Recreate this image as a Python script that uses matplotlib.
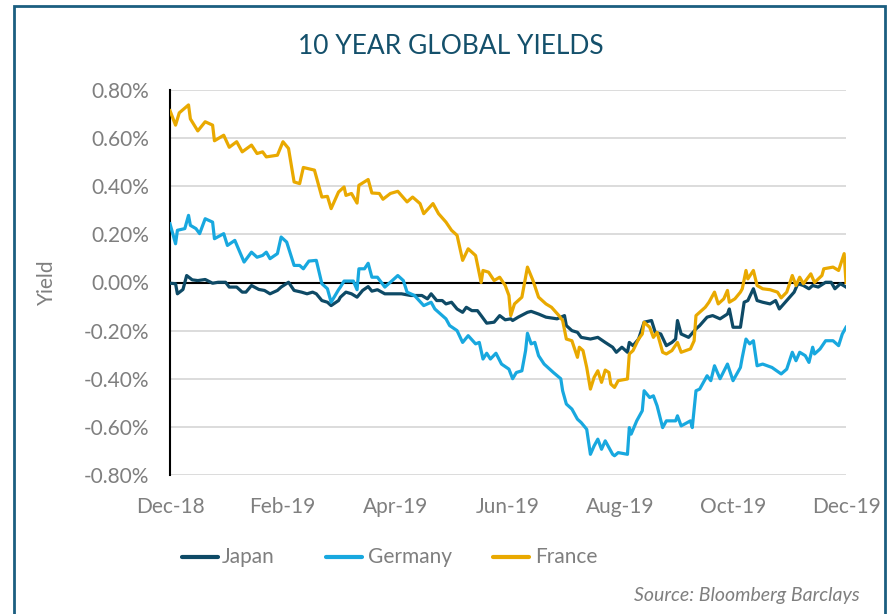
import matplotlib
matplotlib.use("Agg")
import matplotlib.pyplot as plt
from matplotlib.patches import Rectangle
from matplotlib.lines import Line2D
import numpy as np

# ---- data (days since 31-Dec-2018, yield in %) ----
japan_days = [0, 3, 4, 7, 9, 12, 15, 19, 23, 26, 30, 32, 36, 39, 41, 44, 48, 51, 54, 58,
              60, 64, 67, 71, 74, 77, 79, 82, 85, 87, 91, 92, 95, 98, 101, 104, 107, 109, 112, 116,
              125, 130, 136, 139, 141, 144, 147, 149, 152, 155, 158, 160, 163, 166, 168, 171, 175, 178, 181, 184,
              185, 188, 193, 195, 199, 203, 209, 213, 214, 217, 220, 222, 227, 231, 235, 239, 241, 244, 247, 248,
              250, 253, 256, 260, 262, 265, 268, 271, 273, 274, 276, 280, 284, 286, 290, 293, 297, 301, 302, 304,
              308, 310, 312, 315, 317, 320, 324, 327, 329, 333, 337, 339, 342, 345, 347, 350, 354, 357, 359, 362, 365]
japan_vals = [-0.003, -0.005, -0.047, -0.029, 0.029, 0.011, 0.008, 0.0125, -0.003, 0.001, 0.001, -0.019, -0.019, -0.04, -0.04, -0.0125, -0.029, -0.033, -0.047, -0.033,
              -0.019, 0.001, -0.033, -0.04, -0.047, -0.04, -0.047, -0.075, -0.082, -0.096, -0.075, -0.061, -0.04, -0.047, -0.061, -0.033, -0.017, -0.036, -0.03, -0.047,
              -0.047, -0.054, -0.054, -0.068, -0.047, -0.075, -0.075, -0.089, -0.082, -0.11, -0.124, -0.103, -0.117, -0.117, -0.1375, -0.169, -0.165, -0.1375, -0.155, -0.151,
              -0.158, -0.144, -0.124, -0.12, -0.131, -0.144, -0.151, -0.1375, -0.179, -0.2, -0.207, -0.228, -0.235, -0.228, -0.249, -0.269, -0.29, -0.269, -0.29, -0.249,
              -0.2625, -0.235, -0.165, -0.158, -0.207, -0.214, -0.2625, -0.249, -0.235, -0.158, -0.214, -0.228, -0.193, -0.179, -0.144, -0.1375, -0.151, -0.131, -0.11, -0.186,
              -0.186, -0.082, -0.075, -0.026, -0.075, -0.082, -0.089, -0.075, -0.11, -0.075, -0.04, -0.005, -0.0125, -0.026, -0.0125, -0.019, 0.001, 0.001, -0.026, -0.005, -0.019]

germany_days = [0, 3, 4, 8, 10, 11, 14, 16, 19, 23, 24, 29, 31, 35, 40, 44, 47, 50, 52, 54,
                58, 60, 63, 67, 70, 72, 75, 79, 82, 85, 87, 91, 92, 94, 99, 101, 102, 105, 107, 109,
                112, 116, 120, 123, 126, 128, 132, 137, 141, 143, 149, 151, 155, 158, 161, 165, 167, 169, 171, 173,
                176, 179, 183, 185, 187, 190, 192, 193, 195, 197, 199, 202, 207, 211, 212, 214, 217, 220, 222, 225,
                227, 229, 231, 233, 235, 237, 239, 240, 242, 247, 248, 249, 252, 255, 256, 259, 261, 263, 266, 268,
                273, 274, 276, 281, 282, 284, 286, 288, 290, 292, 294, 297, 301, 304, 308, 309, 311, 313, 315, 317,
                320, 325, 330, 333, 336, 338, 340, 343, 345, 347, 348, 351, 354, 358, 361, 363, 365]
germany_vals = [0.244, 0.161, 0.217, 0.224, 0.279, 0.2375, 0.224, 0.203, 0.265, 0.251, 0.182, 0.203, 0.154, 0.175, 0.085, 0.126, 0.105, 0.1125, 0.126, 0.099,
                0.12, 0.189, 0.168, 0.071, 0.071, 0.057, 0.089, 0.092, -0.005, -0.026, -0.082, -0.03, -0.019, 0.006, 0.006, -0.03, 0.057, 0.057, 0.08, 0.022,
                0.022, -0.019, 0.008, 0.029, 0.008, -0.04, -0.054, -0.096, -0.082, -0.11, -0.151, -0.179, -0.2, -0.249, -0.221, -0.255, -0.249, -0.318, -0.294, -0.318,
                -0.294, -0.339, -0.36, -0.40, -0.374, -0.367, -0.283, -0.211, -0.255, -0.249, -0.304, -0.339, -0.374, -0.40, -0.45, -0.505, -0.526, -0.568, -0.582, -0.61,
                -0.714, -0.679, -0.651, -0.693, -0.658, -0.686, -0.714, -0.72, -0.707, -0.714, -0.603, -0.63, -0.575, -0.533, -0.45, -0.478, -0.471, -0.5125, -0.603, -0.575,
                -0.575, -0.554, -0.596, -0.575, -0.603, -0.45, -0.443, -0.415, -0.3875, -0.408, -0.346, -0.40, -0.339, -0.408, -0.353, -0.311, -0.235, -0.255, -0.242, -0.346,
                -0.339, -0.353, -0.38, -0.36, -0.29, -0.325, -0.29, -0.304, -0.332, -0.269, -0.297, -0.276, -0.242, -0.242, -0.2625, -0.214, -0.186]

france_days = [0, 3, 5, 10, 11, 15, 19, 23, 24, 29, 32, 36, 39, 44, 47, 50, 52, 58, 61, 64,
               67, 70, 72, 78, 82, 85, 87, 91, 92, 94, 95, 98, 101, 102, 107, 109, 113, 115, 119, 123,
               128, 131, 135, 137, 142, 145, 149, 152, 155, 158, 161, 165, 168, 169, 172, 175, 178, 181, 183, 184,
               186, 190, 193, 196, 199, 203, 206, 210, 212, 214, 217, 220, 221, 223, 225, 227, 229, 231, 233, 235,
               237, 238, 240, 242, 247, 248, 250, 253, 255, 256, 259, 261, 263, 266, 268, 271, 274, 276, 281, 283,
               284, 287, 289, 291, 294, 296, 299, 301, 302, 305, 308, 309, 311, 312, 315, 317, 320, 324, 328, 330,
               333, 336, 338, 340, 342, 346, 348, 352, 353, 358, 361, 364, 365]
france_vals = [0.714, 0.654, 0.705, 0.738, 0.68, 0.63, 0.668, 0.654, 0.589, 0.612, 0.562, 0.585, 0.543, 0.571, 0.536, 0.543, 0.522, 0.529, 0.585, 0.557,
               0.418, 0.411, 0.478, 0.467, 0.355, 0.358, 0.307, 0.376, 0.383, 0.397, 0.362, 0.37, 0.33, 0.404, 0.428, 0.372, 0.37, 0.346, 0.37, 0.379,
               0.335, 0.355, 0.328, 0.286, 0.328, 0.286, 0.251, 0.217, 0.196, 0.092, 0.14, 0.112, 0.0, 0.05, 0.043, 0.008, 0.022, -0.0125, -0.054, -0.1375,
               -0.089, -0.061, 0.064, 0.008, -0.061, -0.089, -0.103, -0.1375, -0.158, -0.235, -0.242, -0.311, -0.269, -0.283, -0.353, -0.443, -0.394, -0.367, -0.415, -0.364,
               -0.374, -0.422, -0.436, -0.408, -0.401, -0.297, -0.283, -0.235, -0.214, -0.165, -0.186, -0.228, -0.207, -0.29, -0.297, -0.283, -0.249, -0.29, -0.276, -0.242,
               -0.1375, -0.117, -0.103, -0.082, -0.04, -0.089, -0.068, -0.033, -0.082, -0.068, -0.04, -0.026, 0.05, 0.015, 0.05, -0.0125, -0.026, -0.03, -0.04, -0.064,
               -0.04, 0.029, -0.0125, 0.022, -0.005, 0.036, 0.0, 0.029, 0.057, 0.064, 0.05, 0.12, 0.0]

tick_labels = ["Dec-18", "Feb-19", "Apr-19", "Jun-19", "Aug-19", "Oct-19", "Dec-19"]
y_ticks = [-0.8, -0.6, -0.4, -0.2, 0.0, 0.2, 0.4, 0.6, 0.8]

series_names = ["Japan", "Germany", "France"]
colors = ["#0E4A66", "#18A8DF", "#E9A900"]

FONT = ["Lato", "DejaVu Sans"]
plt.rcParams["font.family"] = FONT
GRAY = "#7F7F7F"

fig = plt.figure(figsize=(8.92, 6.14), dpi=100)
ax = fig.add_axes([170/892, 1-475/614, (846-170)/892, (475-90)/614])

for name, d, v, c in zip(series_names,
                         [japan_days, germany_days, france_days],
                         [japan_vals, germany_vals, france_vals], colors):
    ax.plot(d, v, color=c, lw=2.3, label=name, solid_joinstyle="round", zorder=3)

ax.set_xlim(0, 365)
ax.set_ylim(-0.8, 0.8)
ax.set_yticks(y_ticks)
ax.set_yticklabels([f"{t:.2f}%" for t in y_ticks], color=GRAY, fontsize=15)
ax.set_xticks(np.linspace(0, 365, len(tick_labels)))
ax.set_xticklabels(tick_labels, color=GRAY, fontsize=15)
ax.tick_params(axis="y", length=0, pad=15)
ax.tick_params(axis="x", length=0, pad=16)
ax.grid(axis="y", color="#D9D9D9", lw=1.3, zorder=0)
ax.axhline(0, color="black", lw=1.5, zorder=2)
for s in ["top", "right", "bottom"]:
    ax.spines[s].set_visible(False)
ax.spines["left"].set_color("black")
ax.spines["left"].set_linewidth(1.5)
ax.yaxis.set_label_coords(-(170-47)/676, 0.5)
ax.set_ylabel("Yield", color=GRAY, fontsize=15, va="center")

fig.text(451/892, 1-47/614, "10 YEAR GLOBAL YIELDS", ha="center", va="center",
         color="#14506B", fontsize=19)

# legend entries placed as in the reference
leg_y = 1 - 557/614
leg_pos = [(182, 222), (326, 368), (493, 535)]
for (hx, tx), name, c in zip(leg_pos, series_names, colors):
    fig.add_artist(Line2D([hx/892, (hx+36)/892], [leg_y, leg_y], color=c, lw=3,
                          transform=fig.transFigure, solid_capstyle="round"))
    fig.text(tx/892, leg_y, name, ha="left", va="center", color=GRAY, fontsize=15)

fig.text(860/892, 1-595/614, "Source: Bloomberg Barclays", ha="right", va="center",
         color=GRAY, fontsize=14, style="italic")

fig.add_artist(Rectangle((14/892, -0.05), (885-14)/892, 1.05-6/614, transform=fig.transFigure,
                         fill=False, edgecolor="#1B5E80", lw=2))

fig.savefig("out.png", dpi=100)
